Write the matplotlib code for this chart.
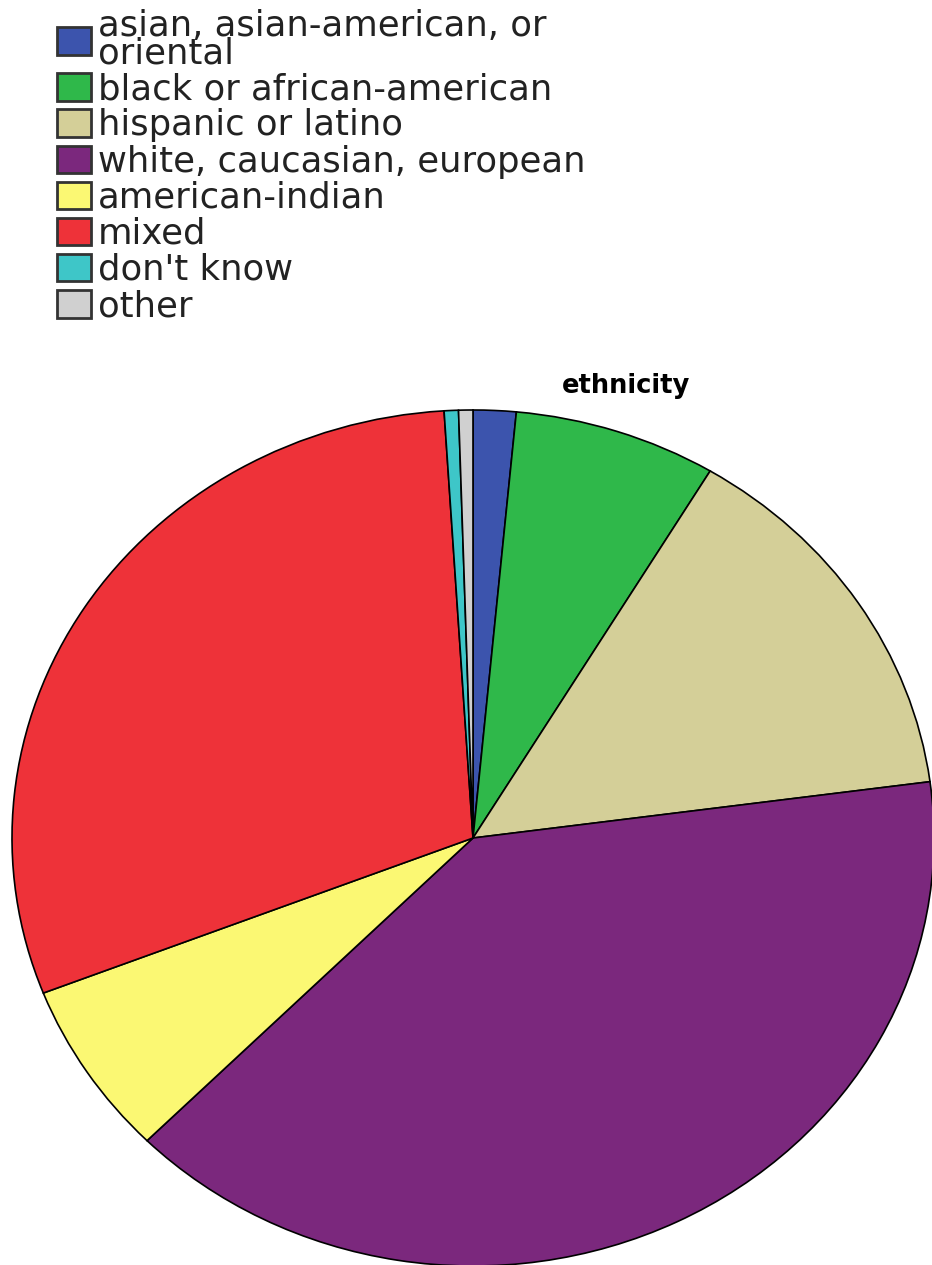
"""Pie chart of respondent ethnicity (SPSS-style output)."""
import matplotlib

matplotlib.use("Agg")
import matplotlib.pyplot as plt  # noqa: E402

# --- data (percent of respondents) ---
labels = [
    "asian, asian-american, or\noriental",
    "black or african-american",
    "hispanic or latino",
    "white, caucasian, european",
    "american-indian",
    "mixed",
    "don't know",
    "other",
]
shares = [1.5, 7.1, 14.3, 39.6, 6.6, 29.9, 0.5, 0.5]
colors = ["#3c54ad", "#2fb84a", "#d4cf98", "#7b287d",
          "#fbf873", "#ee3239", "#3ec6c8", "#d0d0d0"]
title = "ethnicity"

W, H = 932, 1265
fig = plt.figure(figsize=(W / 100, H / 100), dpi=100)

# pie is slightly wider than tall in the source, so let the axes stretch it
cx, cy, rx, ry = 473, 838, 461, 428
ax = fig.add_axes([(cx - rx) / W, (H - cy - ry) / H, 2 * rx / W, 2 * ry / H])
wedges, _ = ax.pie(shares, colors=colors, startangle=90, counterclock=False,
                   radius=1, wedgeprops=dict(edgecolor="black", linewidth=1.2))
ax.set_xlim(-1, 1)
ax.set_ylim(-1, 1)
ax.set_aspect("auto")
ax.axis("off")

fig.text(626 / W, 1 - 386 / H, title, ha="center", va="center",
         fontsize=18.5, fontweight="bold", family="DejaVu Sans")

leg = fig.legend(wedges, labels, loc="upper left",
                 bbox_to_anchor=(57 / W, 1 - 9 / H), frameon=False,
                 prop=dict(family="DejaVu Sans", size=25.5),
                 handlelength=0.96, handleheight=0.82, handletextpad=0.2,
                 labelspacing=0.06, borderpad=0, borderaxespad=0)
for t in leg.get_texts():
    t.set_linespacing(0.75)
    t.set_color("#222222")
for h in leg.legend_handles:
    h.set_linewidth(2)
    h.set_edgecolor("#333333")

fig.savefig("out.png", dpi=100)
